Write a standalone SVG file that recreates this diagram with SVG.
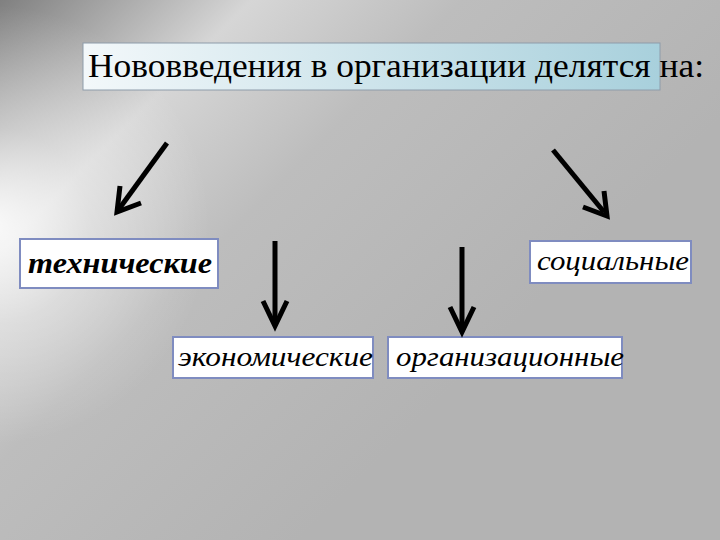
<svg xmlns="http://www.w3.org/2000/svg" width="720" height="540" viewBox="0 0 720 540">
<defs>
<linearGradient id="bg" gradientUnits="userSpaceOnUse" x1="0" y1="0" x2="420" y2="420">
<stop offset="0" stop-color="#808080"/>
<stop offset="0.3" stop-color="#d6d6d6"/>
<stop offset="0.55" stop-color="#bdbdbd"/>
<stop offset="1" stop-color="#b3b3b3"/>
</linearGradient>
<radialGradient id="glow" gradientUnits="userSpaceOnUse" cx="-10" cy="225" r="220">
<stop offset="0" stop-color="#ffffff" stop-opacity="0.9"/>
<stop offset="0.45" stop-color="#ffffff" stop-opacity="0.35"/>
<stop offset="1" stop-color="#ffffff" stop-opacity="0"/>
</radialGradient>
<linearGradient id="titleFill" x1="0" y1="0" x2="1" y2="0">
<stop offset="0" stop-color="#f3f8fa"/>
<stop offset="1" stop-color="#a8d0dc"/>
</linearGradient>
<style>
.box{fill:#ffffff;stroke:#7f8cc0;stroke-width:2}
.arr{fill:none;stroke:#000;stroke-width:5;stroke-linecap:butt;stroke-linejoin:miter}
.lbl{font-family:"Liberation Serif","DejaVu Serif",serif;font-style:italic}
</style>
</defs>
<rect width="720" height="540" fill="url(#bg)"/>
<rect width="720" height="540" fill="url(#glow)"/>

<g id="title">
<rect x="83" y="43" width="577" height="47" fill="url(#titleFill)" stroke="#8e9caa" stroke-width="1"/>
<text x="88" y="77" font-family="Liberation Serif, DejaVu Serif, serif" font-size="33" fill="#000" textLength="616" lengthAdjust="spacingAndGlyphs">Нововведения в организации делятся на:</text>
</g>

<g id="tech">
<rect class="box" x="20" y="239" width="198" height="49"/>
<text class="lbl" x="28" y="273" font-weight="bold" font-size="30" textLength="184" lengthAdjust="spacingAndGlyphs">технические</text>
</g>

<g id="social">
<rect class="box" x="530" y="241" width="161" height="42"/>
<text class="lbl" x="537" y="270" font-size="28" textLength="152" lengthAdjust="spacingAndGlyphs">социальные</text>
</g>

<g id="econ">
<rect class="box" x="173" y="337" width="200" height="41"/>
<text class="lbl" x="178" y="366" font-size="28" textLength="195" lengthAdjust="spacingAndGlyphs">экономические</text>
</g>

<g id="org">
<rect class="box" x="388" y="337" width="234" height="41"/>
<text class="lbl" x="396" y="366" font-size="28" textLength="228" lengthAdjust="spacingAndGlyphs">организационные</text>
</g>

<g id="connectors">
<line class="arr" x1="167" y1="143" x2="119" y2="209"/>
<polyline class="arr" points="120,186 117,212 141,203"/>
<line class="arr" x1="553" y1="150" x2="604" y2="212"/>
<polyline class="arr" points="583,207 607,216 604,191"/>
<line class="arr" x1="275" y1="241" x2="275" y2="323"/>
<polyline class="arr" points="263,301 275,326 287,301"/>
<line class="arr" x1="462" y1="247" x2="462" y2="329"/>
<polyline class="arr" points="450,307 462,332 474,307"/>
</g>
</svg>
